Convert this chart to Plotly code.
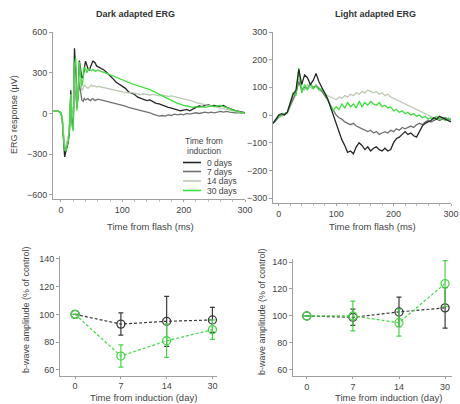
import plotly.graph_objects as go

# ---------------- data ----------------
t_dark = [-12, -8, -4, 0, 2, 4, 6, 8, 10, 12, 14, 16, 18, 20, 22, 24, 26, 28, 30, 32, 34, 36, 38, 40,
          42, 44, 46, 48, 50, 52, 54, 56, 58, 60,
          65, 70, 75, 80, 85, 90, 95, 100, 105, 110, 115, 120, 125, 130, 135, 140, 145, 150, 155, 160,
          165, 170, 175, 180, 185, 190, 195, 200, 205, 210, 215, 220, 225, 230, 235, 240, 245, 250, 255,
          260, 265, 270, 275, 280, 285, 290, 295, 300]

dark_0d = [20, 18, 15, 5, -40, -180, -320, -280, -230, -210, -120, 170, -60, -110, 480, 330, 60, 150, 390, 340,
           260, 270, 350, 385, 360, 330, 320, 345, 370, 385, 380, 370, 350, 345,
           330, 320, 300, 280, 255, 230, 215, 200, 185, 160, 150, 140, 120, 110, 105, 95, 100, 85, 75, 70,
           60, 55, 45, 40, 35, 25, 20, 25, 30, 20, 35, 45, 55, 50, 60, 65, 55, 60, 50,
           55, 60, 45, 35, 30, 20, 15, 10, 5]
dark_7d = [20, 18, 15, 5, -30, -150, -260, -250, -200, -180, -90, 120, -30, -50, 250, 150, 40, 120, 230, 160,
           100, 90, 110, 100, 105, 110, 100, 95, 105, 110, 100, 95, 100, 105,
           100, 95, 90, 85, 80, 75, 65, 60, 55, 45, 40, 35, 30, 25, 15, 10, 5, -5, -15, -20,
           -15, -20, -10, -15, -5, -10, -5, -10, 0, -5, 0, 5, 0, 5, 10, 5, 10, 5, 10,
           15, 10, 15, 10, 5, 5, 5, 0, 0]
dark_14d = [20, 18, 15, 5, -30, -140, -250, -240, -190, -170, -80, 140, -20, -30, 300, 200, 80, 160, 280, 230,
            170, 180, 210, 200, 190, 185, 195, 205, 210, 200, 205, 200, 195, 200,
            195, 190, 180, 175, 170, 165, 160, 160, 155, 150, 155, 150, 145, 140, 145, 140, 135, 140, 135, 130,
            135, 130, 125, 130, 125, 120, 115, 110, 100, 95, 90, 80, 75, 70, 60, 55, 50, 45, 40,
            35, 30, 25, 20, 15, 10, 5, 5, 0]
dark_30d = [20, 18, 15, 5, -40, -170, -270, -275, -240, -200, -80, 140, -90, -130, 360, 410, 20, 150, 380, 300,
            200, 250, 340, 330, 300, 320, 330, 320, 315, 325, 320, 310, 315, 320,
            310, 305, 295, 285, 275, 265, 255, 245, 240, 230, 220, 212, 205, 197, 190, 185, 175, 165, 155, 145,
            130, 118, 105, 95, 85, 75, 65, 60, 55, 50, 45, 50, 45, 50, 45, 50, 55, 50, 55,
            60, 50, 45, 35, 25, 20, 10, 5, 0]

t_light = [-10, -5, 0, 5, 10, 15, 20, 25, 30, 35, 40, 45, 50, 55, 60, 65, 70, 75, 80, 85, 90, 95, 100,
           105, 110, 115, 120, 125, 130, 135, 140, 145, 150, 155, 160, 165, 170, 175, 180, 185, 190, 195,
           200, 205, 210, 215, 220, 225, 230, 235, 240, 245, 250, 255, 260, 265, 270, 275, 280, 285, 290,
           295, 300]

light_0d = [-30, -15, 0, 5, 0, 10, 40, 75, 90, 165, 110, 145, 135, 110, 125, 150, 120, 100, 85, 60, 30, 0, -30,
            -60, -90, -110, -135, -130, -140, -115, -100, -110, -125, -115, -130, -120, -115, -125, -130, -120,
            -130, -125, -100, -85, -80, -70, -60, -70, -65, -75, -80, -60, -40, -30, -25, -20, -10, -15, -5,
            -10, -15, -20, -25]
light_7d = [-30, -20, -5, 0, 5, 10, 35, 60, 80, 120, 90, 100, 95, 110, 100, 105, 95, 85, 70, 55, 35, 15, 0,
            -10, -15, -25, -30, -35, -30, -40, -45, -50, -55, -60, -55, -65, -60, -70, -65, -60, -65, -55,
            -60, -50, -55, -45, -50, -45, -40, -45, -35, -30, -35, -25, -20, -25, -20, -15, -20, -15, -10,
            -15, -15]
light_14d = [-30, -20, -10, -5, 0, 5, 30, 55, 75, 130, 100, 90, 110, 100, 95, 110, 100, 90, 80, 70, 65, 60, 55,
             65, 60, 70, 65, 75, 70, 80, 75, 85, 80, 90, 85, 80, 85, 75, 80, 70, 75, 65, 60, 55, 50, 45, 40,
             35, 30, 25, 20, 15, 10, 5, 0, -5, -10, -5, -10, -15, -10, -15, -20]
light_30d = [-30, -15, -5, 0, 5, 10, 45, 80, 70, 170, 80, 110, 90, 115, 95, 105, 90, 95, 80, 55, 35, 15, 30,
             20, 40, 25, 45, 30, 40, 25, 50, 30, 45, 35, 50, 40, 35, 45, 30, 35, 25, 30, 15, 20, 10, 15, 5,
             10, 0, 5, -5, 0, -10, -5, -15, -10, -15, -5, -15, -10, -20, -10, -20]

series_names = ["0 days", "7 days", "14 days", "30 days"]

days = ["0", "7", "14", "30"]
days_pos = [0, 1, 2, 3]

dark_b_ctrl = [100, 93, 95, 96]
dark_b_ctrl_err = [0, 8, 18, 9]
dark_b_ind = [100, 70, 81, 89]
dark_b_ind_err = [0, 8, 12, 7]

light_b_ctrl = [100, 99, 103, 106]
light_b_ctrl_err = [0, 6, 11, 15]
light_b_ind = [100, 100, 95, 124]
light_b_ind_err = [0, 11, 10, 17]

# ---------------- styles ----------------
W, H = 460, 404
FONT = "Arial, Liberation Sans, sans-serif"
colors = ["#262626", "#6f736f", "#bccab6", "#3ddf3d"]
BLACK = "#3a3a3a"
GREEN = "#45d845"


def px(x):
    return x / W


def py(y):
    return 1 - y / H


fig = go.Figure()

for vals, c, n in zip([dark_0d, dark_7d, dark_14d, dark_30d], colors, series_names):
    fig.add_trace(go.Scatter(x=t_dark, y=vals, mode="lines", line=dict(color=c, width=1.3),
                             name=n, xaxis="x", yaxis="y", showlegend=False))
for vals, c, n in zip([light_14d, light_7d, light_30d, light_0d],
                      [colors[2], colors[1], colors[3], colors[0]],
                      ["14 days", "7 days", "30 days", "0 days"]):
    fig.add_trace(go.Scatter(x=t_light, y=vals, mode="lines", line=dict(color=c, width=1.3),
                             name=n, xaxis="x2", yaxis="y2", showlegend=False))


def bwave(y, err, color, xa, ya):
    fig.add_trace(go.Scatter(
        x=days_pos, y=y, mode="lines+markers", xaxis=xa, yaxis=ya, showlegend=False,
        line=dict(color=color, width=1.2, dash="3px,2px"),
        marker=dict(symbol="circle-open", size=8, color=color, line=dict(width=1.3, color=color)),
        error_y=dict(type="data", array=err, visible=True, color=color, thickness=1.2, width=2.5)))


bwave(dark_b_ctrl, dark_b_ctrl_err, BLACK, "x3", "y3")
bwave(dark_b_ind, dark_b_ind_err, GREEN, "x3", "y3")
bwave(light_b_ctrl, light_b_ctrl_err, BLACK, "x4", "y4")
bwave(light_b_ind, light_b_ind_err, GREEN, "x4", "y4")

axis_common = dict(showline=True, linecolor="#a0a0a0", linewidth=1, ticks="outside", ticklen=3,
                   tickcolor="#a0a0a0", showgrid=False, zeroline=False, automargin=False,
                   ticklabeloverflow="allow",
                   tickfont=dict(family=FONT, size=9, color="#444"))
xaxis_common = dict(axis_common, ticklen=2)

fig.update_layout(
    width=W, height=H, autosize=False, margin=dict(l=0, r=0, t=0, b=0, pad=0),
    paper_bgcolor="white", plot_bgcolor="white", showlegend=False,
    font=dict(family=FONT, color="#444"),
    xaxis=dict(domain=[px(53), px(245)], range=[-13, 300], anchor="y", tickvals=[0, 100, 200, 300],
               minor=dict(ticks="outside", ticklen=2, dtick=20, tickcolor="#c0c0c0"), **xaxis_common),
    yaxis=dict(domain=[py(199), py(32)], range=[-630, 600], anchor="x",
               tickvals=[-600, -300, 0, 300, 600], **axis_common),
    xaxis2=dict(domain=[px(273), px(451)], range=[-10, 300], anchor="y2", tickvals=[0, 100, 200, 300],
                minor=dict(ticks="outside", ticklen=2, dtick=20, tickcolor="#c0c0c0"), **xaxis_common),
    yaxis2=dict(domain=[py(203), py(32)], range=[-318, 300], anchor="x2",
                tickvals=[-300, -200, -100, 0, 100, 200, 300], **axis_common),
    xaxis3=dict(domain=[px(60), px(217)], range=[-0.33, 3.1], anchor="y3", tickvals=days_pos,
                ticktext=days, **xaxis_common),
    yaxis3=dict(domain=[py(375.5), py(256)], range=[56, 142], anchor="x3",
                tickvals=[60, 80, 100, 120, 140], **axis_common),
    xaxis4=dict(domain=[px(293), px(452)], range=[-0.3, 3.15], anchor="y4", tickvals=days_pos,
                ticktext=days, **xaxis_common),
    yaxis4=dict(domain=[py(376), py(259.3)], range=[55.5, 142], anchor="x4",
                tickvals=[60, 80, 100, 120, 140], **axis_common),
)

ann = []


def text(x, y, s, size=9, bold=False, angle=0, xanchor="center", color="#444"):
    ann.append(dict(x=px(x), y=py(y), xref="paper", yref="paper", text=f"<b>{s}</b>" if bold else s,
                    showarrow=False, xanchor=xanchor, yanchor="middle", textangle=angle,
                    font=dict(family=FONT, size=size, color=color)))


text(135, 14, "Dark adapted ERG", size=9, bold=True, color="#333")
text(375, 14, "Light adapted ERG", size=9, bold=True, color="#333")
text(14, 115, "ERG response (µV)", size=9, angle=-90)
text(150, 226, "Time from flash (ms)", size=9.5)
text(372, 226, "Time from flash (ms)", size=9.5)
text(26, 310, "b-wave amplitude (% of control)", size=9, angle=-90)
text(262, 312, "b-wave amplitude (% of control)", size=9, angle=-90)
text(143, 397.5, "Time from induction (day)", size=9.5)
text(388, 397.5, "Time from induction (day)", size=9.5)

# legend
text(204, 141, "Time from", size=8.5)
text(204, 151, "induction", size=8.5)
shapes = []
rows = [162.5, 171.5, 181, 190.5]
for r, c, n in zip(rows, colors, series_names):
    shapes.append(dict(type="line", xref="paper", yref="paper", x0=px(183), x1=px(201), y0=py(r), y1=py(r),
                       line=dict(color=c, width=1.6)))
    text(205, r, n, size=8.5, xanchor="left")

fig.update_layout(annotations=ann, shapes=shapes)
fig.write_html("out.html", config={"displayModeBar": False, "responsive": False},
               post_script="document.body.style.margin='0';document.body.style.overflow='hidden';")
